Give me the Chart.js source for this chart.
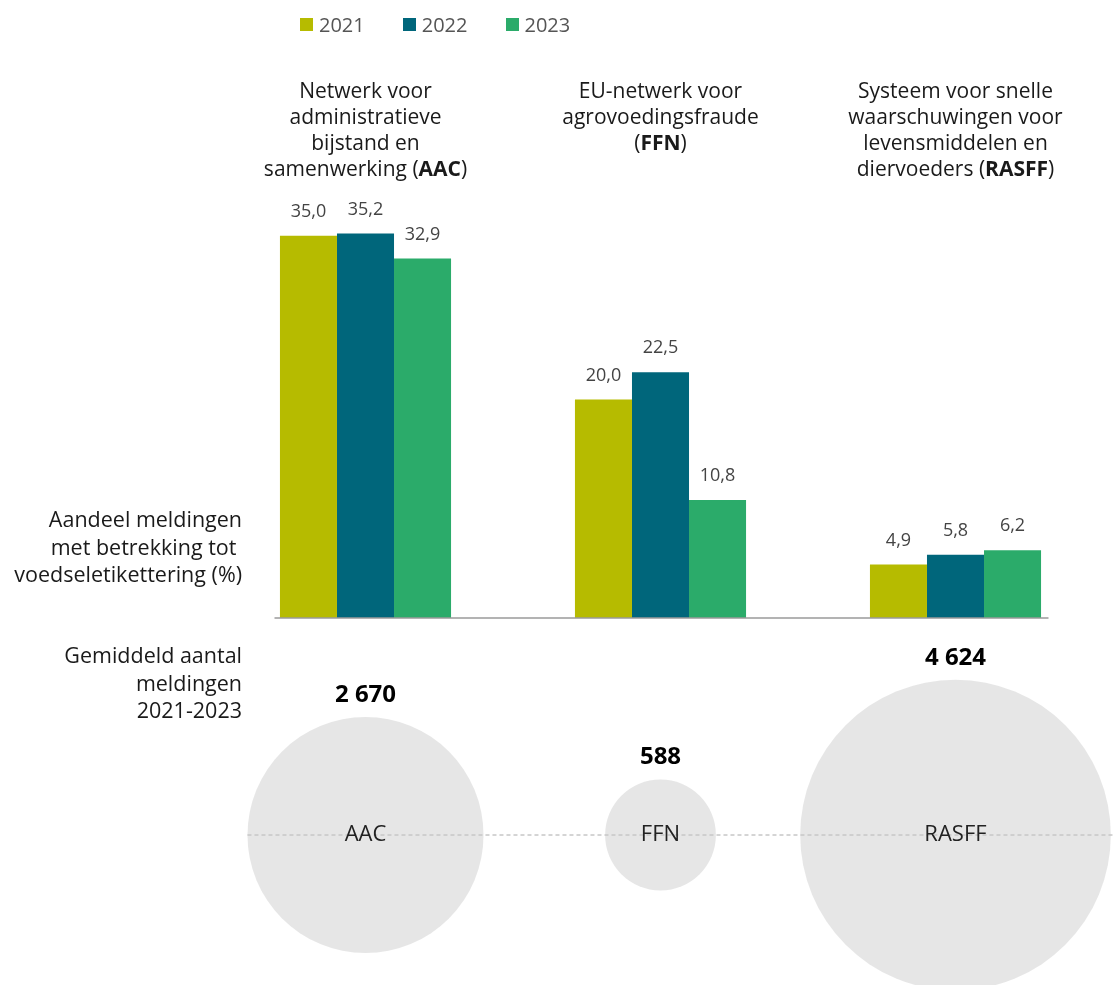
<!DOCTYPE html>
<html lang="nl">
<head>
    <meta charset="UTF-8">
    <title>Meldingen voedseletikettering</title>
    <script src="https://cdn.jsdelivr.net/npm/chart.js"></script>
    <style>
        body { margin: 0; background: #fff; font-family: "Open Sans", sans-serif; }
        #wrap { position: relative; width: 1113px; height: 985px; overflow: hidden; }
        canvas { position: absolute; left: 0; }
        #barChart { top: 0; }
        #bubbleChart { top: 640px; }
        #legend { position: absolute; top: 11px; left: 300px; display: flex; align-items: center; }
        .item { display: flex; align-items: center; margin-right: 38px; font-size: 20px; color: #555; }
        .box { width: 13px; height: 13px; margin-right: 6px; }
    </style>
</head>
<body>
<div id="wrap">
    <canvas id="barChart" width="1113" height="640"></canvas>
    <canvas id="bubbleChart" width="1113" height="345"></canvas>
    <div id="legend"></div>
</div>

<script>
    // data
    const categories = ['AAC', 'FFN', 'RASFF'];
    const years = ['2021', '2022', '2023'];
    const share2021 = [35.0, 20.0, 4.9];
    const share2022 = [35.2, 22.5, 5.8];
    const share2023 = [32.9, 10.8, 6.2];
    const avgReports = [2670, 588, 4624];   // gemiddeld aantal meldingen 2021-2023

    const headers = [
        ['Netwerk voor', 'administratieve', 'bijstand en', 'samenwerking (**AAC**)'],
        ['EU-netwerk voor', 'agrovoedingsfraude', '(**FFN**)'],
        ['Systeem voor snelle', 'waarschuwingen voor', 'levensmiddelen en', 'diervoeders (**RASFF**)']
    ];
    const shareLabel = ['Aandeel meldingen', 'met betrekking tot ', 'voedseletikettering (%)'];
    const countLabel = ['Gemiddeld aantal', 'meldingen', '2021-2023'];

    const colors = ['#b6bb00', '#00667b', '#2bab6a'];
    const FONT = '"Open Sans"';

    // legend
    const legend = document.getElementById('legend');
    years.forEach((y, i) => {
        legend.innerHTML += `<div class="item"><div class="box" style="background:${colors[i]}"></div>${y}</div>`;
    });

    const fmtDec = v => v.toFixed(1).replace('.', ',');
    const fmtInt = v => String(v).replace(/\B(?=(\d{3})+(?!\d))/g, ' ');

    // draws a centred line where **text** is bold
    function drawRich(ctx, line, cx, y, size) {
        const parts = line.split('**');
        let total = 0;
        const widths = parts.map((p, i) => {
            ctx.font = (i % 2 ? 'bold ' : '') + size + 'px ' + FONT;
            const w = ctx.measureText(p).width;
            total += w;
            return w;
        });
        let x = cx - total / 2;
        ctx.textAlign = 'left';
        parts.forEach((p, i) => {
            ctx.font = (i % 2 ? 'bold ' : '') + size + 'px ' + FONT;
            ctx.fillText(p, x, y);
            x += widths[i];
        });
    }

    const barExtras = {
        id: 'barExtras',
        afterDraw(chart) {
            const ctx = chart.ctx;
            const xs = chart.scales.x, ys = chart.scales.y;
            ctx.save();
            // base line
            const y0 = ys.getPixelForValue(0);
            ctx.strokeStyle = '#9a9a9a';
            ctx.lineWidth = 1.5;
            ctx.beginPath();
            ctx.moveTo(xs.getPixelForValue(0) - 91, y0);
            ctx.lineTo(xs.getPixelForValue(2) + 93, y0);
            ctx.stroke();

            // value labels
            ctx.textBaseline = 'middle';
            ctx.textAlign = 'center';
            ctx.fillStyle = '#444';
            ctx.font = '18px ' + FONT;
            chart.data.datasets.forEach((ds, di) => {
                chart.getDatasetMeta(di).data.forEach((bar, i) => {
                    ctx.fillText(fmtDec(ds.data[i]), bar.x, bar.y - 24);
                });
            });

            // category headers
            ctx.fillStyle = '#1a1a1a';
            headers.forEach((lines, i) => {
                const cx = xs.getPixelForValue(i);
                lines.forEach((l, k) => drawRich(ctx, l, cx, 92 + k * 26, 21));
            });

            // left label
            ctx.textAlign = 'right';
            ctx.font = '21.5px ' + FONT;
            shareLabel.forEach((l, k) => ctx.fillText(l, 242, 521 + k * 27.5));
            ctx.restore();
        }
    };

    new Chart(document.getElementById('barChart'), {
        type: 'bar',
        data: {
            labels: categories,
            datasets: [
                { label: years[0], data: share2021, backgroundColor: colors[0] },
                { label: years[1], data: share2022, backgroundColor: colors[1] },
                { label: years[2], data: share2023, backgroundColor: colors[2] }
            ]
        },
        options: {
            responsive: false,
            animation: false,
            events: [],
            categoryPercentage: 0.58,
            barPercentage: 1,
            layout: { padding: { left: 218, right: 10, top: 181, bottom: 22 } },
            plugins: { legend: { display: false }, tooltip: { enabled: false } },
            scales: {
                x: { display: false },
                y: { display: false, min: 0, max: 40 }
            }
        },
        plugins: [barExtras]
    });

    // bubble radius: area proportional to count
    const radius = v => 2.284 * Math.sqrt(v);

    const bubbleExtras = {
        id: 'bubbleExtras',
        beforeDatasetsDraw(chart) {
            const ctx = chart.ctx;
            const meta = chart.getDatasetMeta(0);
            const first = meta.data[0];
            ctx.save();
            ctx.strokeStyle = '#aaa';
            ctx.lineWidth = 1;
            ctx.setLineDash([4, 3]);
            ctx.beginPath();
            ctx.moveTo(first.x - radius(avgReports[0]), first.y);
            ctx.lineTo(chart.width, first.y);
            ctx.stroke();
            ctx.restore();
        },
        afterDatasetsDraw(chart) {
            const ctx = chart.ctx;
            const meta = chart.getDatasetMeta(0);
            ctx.save();
            ctx.textAlign = 'center';
            ctx.textBaseline = 'middle';
            meta.data.forEach((pt, i) => {
                const r = radius(avgReports[i]);
                ctx.fillStyle = '#222';
                ctx.font = '22px ' + FONT;
                ctx.fillText(categories[i], pt.x, pt.y);
                ctx.fillStyle = '#000';
                ctx.font = 'bold 24px ' + FONT;
                ctx.fillText(fmtInt(avgReports[i]), pt.x, pt.y - r - 22);
            });
            ctx.fillStyle = '#1a1a1a';
            ctx.textAlign = 'right';
            ctx.font = '21.5px ' + FONT;
            countLabel.forEach((l, k) => ctx.fillText(l, 242, 17 + k * 27.5));
            ctx.restore();
        }
    };

    new Chart(document.getElementById('bubbleChart'), {
        type: 'bubble',
        data: {
            labels: categories,
            datasets: [{
                data: categories.map((c, i) => ({ x: c, y: 0, r: radius(avgReports[i]) })),
                backgroundColor: 'rgba(200, 200, 200, 0.45)',
                borderWidth: 0,
                clip: false
            }]
        },
        options: {
            responsive: false,
            animation: false,
            events: [],
            layout: { autoPadding: false, padding: { left: 218, right: 10, top: 45, bottom: 0 } },
            plugins: { legend: { display: false }, tooltip: { enabled: false } },
            scales: {
                x: { type: 'category', offset: true, display: false },
                y: { display: false, min: -1, max: 1 }
            }
        },
        plugins: [bubbleExtras]
    });
</script>
</body>
</html>
